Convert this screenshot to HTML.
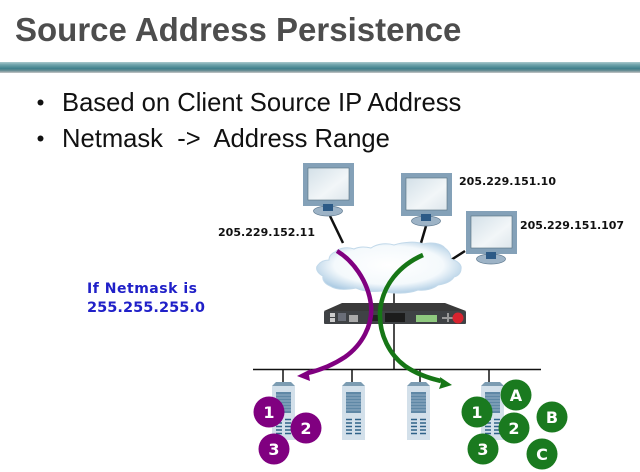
<!DOCTYPE html>
<html><head><meta charset="utf-8"><style>
html,body{margin:0;padding:0;background:#fff;width:640px;height:472px;overflow:hidden}
svg{display:block;position:absolute;left:0;top:0;filter:blur(.35px)}
.t{position:absolute;white-space:pre;font-family:"Liberation Sans",Arial,Helvetica,sans-serif;line-height:1;filter:blur(.35px)}
.ip{font-family:"DejaVu Sans",sans-serif;font-weight:bold;font-size:11px;fill:#111}
.n{font-family:"DejaVu Sans",sans-serif;font-weight:bold;font-size:16px;fill:#fff;text-anchor:middle}
</style></head><body>
<svg width="640" height="472" viewBox="0 0 640 472" xmlns="http://www.w3.org/2000/svg">
<defs>
<linearGradient id="bar" x1="0" y1="0" x2="0" y2="1">
<stop offset="0" stop-color="#a9c9cd"/><stop offset=".25" stop-color="#6fa3ab"/><stop offset=".6" stop-color="#3f7f8b"/><stop offset=".8" stop-color="#6d8f95"/><stop offset="1" stop-color="#c8c8c8"/>
</linearGradient>
<linearGradient id="scr" x1="0" y1="0" x2="1" y2="1">
<stop offset="0" stop-color="#d3e0e8"/><stop offset=".6" stop-color="#f2f6f8"/><stop offset="1" stop-color="#dde6ec"/>
</linearGradient>
<radialGradient id="cl" cx=".5" cy=".45" r=".58">
<stop offset="0" stop-color="#fff"/><stop offset=".65" stop-color="#f4f9fc"/><stop offset="1" stop-color="#a9c9e2"/>
</radialGradient>
<g id="mon">
<rect x="0" y="0" width="51" height="43" fill="#84a1b8"/>
<rect x="5" y="5" width="41" height="32" fill="url(#scr)" stroke="#55707f" stroke-width=".6"/>
<ellipse cx="25" cy="48" rx="14.500" ry="5" fill="#9db3c6" stroke="#5f7a90" stroke-width=".7"/>
<rect x="20" y="41" width="10" height="7" fill="#2c5a86"/>
</g>
<g id="srv">
<path d="M0 4 L4 0 H19 L23 4 Z" fill="#7c9cb2"/>
<rect x="0" y="4" width="23" height="54" fill="#d3e0ea"/>
<rect x="4" y="10" width="15" height="21" fill="#5f88a6"/>
<path d="M4 13H19M4 16H19M4 19H19M4 22H19M4 25H19M4 28H19" stroke="#a8bfd0" stroke-width=".8"/>
<path d="M4 37.500h6M13 37.500h6M4 41h6M13 41h6M4 44.500h6M13 44.500h6M4 48h6M13 48h6M4 51.500h6M13 51.500h6" stroke="#2f6288" stroke-width="1.600"/>
</g>
</defs>
<rect width="640" height="472" fill="#fff"/>
<rect x="0" y="62" width="640" height="11" fill="url(#bar)"/>

<circle cx="40.500" cy="102.500" r="3" fill="#111"/>
<circle cx="40.500" cy="138.500" r="3" fill="#111"/>

<path d="M330 216L343 243M426 226L421 243M465 251L451 260" stroke="#111" stroke-width="2.500" fill="none"/>
<use href="#mon" x="303" y="163"/>
<use href="#mon" x="401" y="173"/>
<use href="#mon" x="466" y="211"/>

<path d="M394 290V303" stroke="#111" stroke-width="1.500"/>
<path d="M335 252C340 247 349 247 354 249C360 246 367 247 371 248C378 243 388 243 394 245C403 242 416 241 423 244C431 242 441 243 445 248C449 251 451 255 451 259C458 261 462 265 461 269C461 273 458 276 454 277C451 282 445 284 438 285C433 289 425 291 418 290C408 294 392 294 382 291C372 292 362 291 356 288C346 290 336 290 330 286C325 284 322 280 323 276C317 273 315 268 318 265C321 261 326 260 329 260C329 256 332 253 335 252Z" fill="url(#cl)" stroke="#c2d9ea" stroke-width="1"/>

<path d="M324 311L342 303H445L466 311Z" fill="#3a3a3a"/>
<rect x="324" y="311" width="142" height="13" rx="1" fill="#3f4245"/>
<rect x="330" y="313" width="5" height="4" fill="#ccc"/><rect x="330" y="318" width="5" height="4" fill="#ccc"/>
<rect x="338" y="313" width="8" height="8" fill="#6a6e78"/>
<rect x="349" y="315" width="9" height="7" fill="#aaa"/>
<rect x="372" y="315" width="9" height="6" fill="#222"/>
<rect x="385" y="313" width="20" height="9" fill="#1c1c1c"/>
<rect x="416" y="315" width="21" height="7" fill="#8fc97f"/>
<path d="M442 318h12M448 313v9" stroke="#999" stroke-width="2"/>
<circle cx="458" cy="318" r="5.500" fill="#d8242f"/>

<path d="M394 324V369" stroke="#111" stroke-width="1.500"/>
<path d="M253 369.500H541" stroke="#111" stroke-width="1.500"/>
<path d="M283 369V382M352 369V382M420 369V382M489 369V382" stroke="#111" stroke-width="1.500"/>

<use href="#srv" x="272" y="382"/>
<use href="#srv" x="342" y="382"/>
<use href="#srv" x="407" y="382"/>
<use href="#srv" x="481" y="382"/>

<path d="M337 251C352 260 368 280 371 305C373 325 362 345 345 357C333 365 320 370 308 373" fill="none" stroke="#800080" stroke-width="4.500"/>
<path d="M297 376L311 369L309 375L310 381Z" fill="#800080"/>
<path d="M423 255C400 265 382 285 380 312C379 335 390 355 405 366C415 373 428 378 441 381" fill="none" stroke="#167616" stroke-width="4.500"/>
<path d="M452 385L440 377L441 383L439 389Z" fill="#167616"/>

<text class="ip" x="218" y="236" textLength="97">205.229.152.11</text>
<text class="ip" x="459" y="185" textLength="97">205.229.151.10</text>
<text class="ip" x="520" y="229" textLength="104">205.229.151.107</text>

<text x="87" y="293" style="font-family:'DejaVu Sans',sans-serif" font-size="14" font-weight="bold" fill="#2020c8" textLength="110">If Netmask is</text>
<text x="87" y="312" style="font-family:'DejaVu Sans',sans-serif" font-size="14.500" font-weight="bold" fill="#2020c8" textLength="118">255.255.255.0</text>

<g fill="#800080">
<circle cx="269" cy="412" r="15.500"/><circle cx="306" cy="428" r="15.500"/><circle cx="274" cy="449" r="15.500"/>
</g>
<g fill="#1a7a1f">
<circle cx="516" cy="395" r="15.500"/><circle cx="552" cy="417" r="15.500"/><circle cx="477" cy="412" r="15.500"/>
<circle cx="514" cy="428" r="15.500"/><circle cx="483" cy="449" r="15.500"/><circle cx="542" cy="454" r="15.500"/>
</g>
<text class="n" x="269" y="418">1</text><text class="n" x="306" y="434">2</text><text class="n" x="274" y="455">3</text>
<text class="n" x="516" y="401">A</text><text class="n" x="552" y="423">B</text><text class="n" x="477" y="418">1</text>
<text class="n" x="514" y="434">2</text><text class="n" x="483" y="455">3</text><text class="n" x="542" y="460">C</text>
</svg>
<div class="t" style="left:15px;top:13px;font-size:33px;font-weight:bold;color:#4d4d4d">Source Address Persistence</div>
<div class="t" style="left:62px;top:91px;font-size:25.600px;color:#111">Based on Client Source IP Address</div>
<div class="t" style="left:62px;top:127px;font-size:25.600px;color:#111">Netmask  -&gt;  Address Range</div>
</body></html>
